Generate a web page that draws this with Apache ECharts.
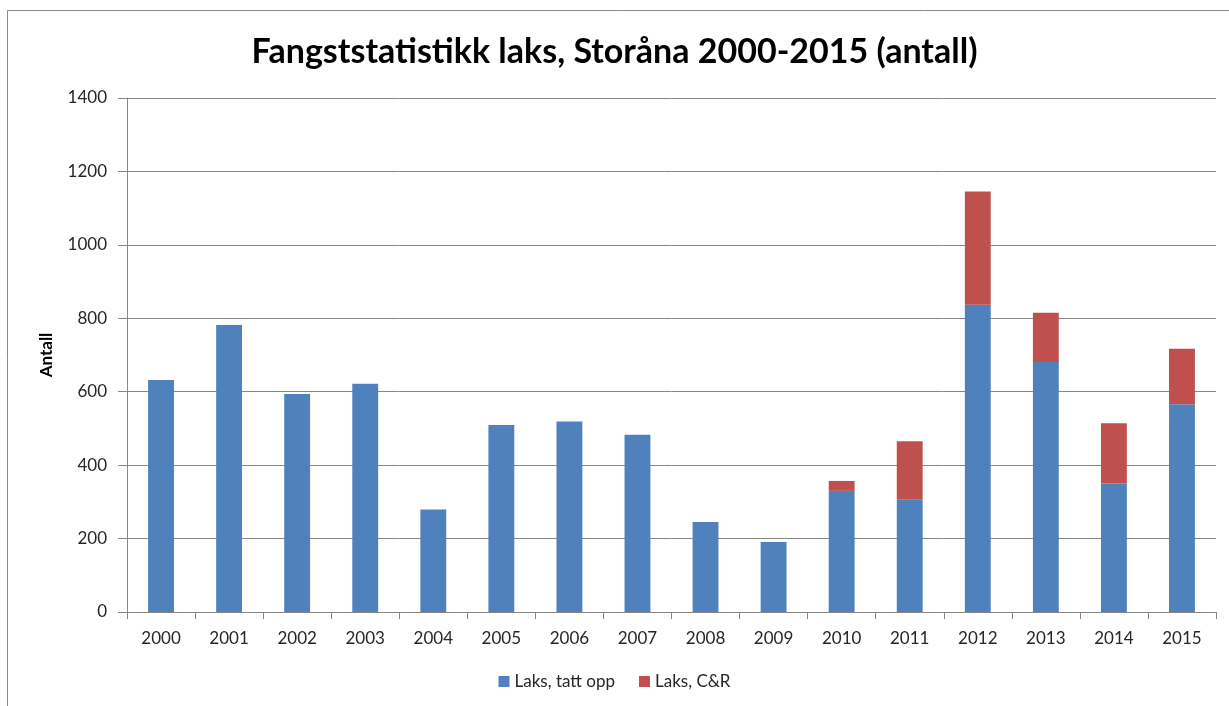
<!DOCTYPE html>
<html>
<head>
<meta charset="utf-8">
<title>Fangststatistikk laks, Storåna</title>
<script src="https://cdn.jsdelivr.net/npm/echarts@6/dist/echarts.min.js"></script>
<style>
    html, body { margin: 0; padding: 0; background: #fff; }
    #chart { width: 1229px; height: 706px; }
</style>
</head>
<body>
<div id="chart"></div>
<script>
// årstall langs x-aksen
var years = ['2000','2001','2002','2003','2004','2005','2006','2007','2008','2009','2010','2011','2012','2013','2014','2015'];
// laks tatt opp (blå)
var tattOpp = [632, 782, 594, 622, 279, 509, 519, 483, 245, 191, 330, 306, 837, 681, 350, 566];
// laks fanget og sluppet ut (rød), bare fra 2010
var catchRelease = [null, null, null, null, null, null, null, null, null, null, 27, 159, 308, 134, 164, 151];
var yTicks = [0, 200, 400, 600, 800, 1000, 1200, 1400];

var fontFam = 'Lato, "Open Sans", sans-serif';
var textColor = '#262626';
var lineColor = '#878787';

var myChart = echarts.init(document.getElementById('chart'));
var option = {
    animation: false,
    title: {
        text: 'Fangststatistikk laks, Storåna 2000-2015 (antall)',
        left: 'center',
        top: 30,
        textStyle: { fontFamily: fontFam, fontSize: 34, fontWeight: 'bold', color: '#000' }
    },
    graphic: [{
        type: 'rect',
        shape: { x: 7.5, y: 10.5, width: 1260, height: 740 },
        style: { fill: 'none', stroke: '#8a8a8a', lineWidth: 1 },
        silent: true
    }],
    legend: {
        bottom: 11,
        left: 'center',
        itemWidth: 11,
        itemHeight: 11,
        itemGap: 24,
        icon: 'rect',
        textStyle: { fontFamily: fontFam, fontSize: 17, color: textColor }
    },
    grid: { left: 127, right: 13, top: 98, bottom: 94 },
    xAxis: {
        type: 'category',
        data: years,
        axisLine: { lineStyle: { color: lineColor } },
        axisTick: { show: true, length: 7, lineStyle: { color: lineColor } },
        axisLabel: { fontFamily: fontFam, fontSize: 17, color: textColor, margin: 18 }
    },
    yAxis: {
        type: 'value',
        min: yTicks[0],
        max: yTicks[yTicks.length - 1],
        interval: 200,
        name: 'Antall',
        nameLocation: 'middle',
        nameRotate: 90,
        nameGap: 72,
        nameTextStyle: { fontFamily: fontFam, fontSize: 17, fontWeight: 'bold', color: '#000' },
        axisLine: { show: true, lineStyle: { color: lineColor } },
        axisTick: { show: true, length: 9, lineStyle: { color: lineColor } },
        splitLine: { lineStyle: { color: lineColor } },
        axisLabel: {
            fontFamily: fontFam, fontSize: 17, color: textColor, margin: 20,
            formatter: function (v) { return String(v); }
        }
    },
    series: [{
        name: 'Laks, tatt opp',
        type: 'bar',
        stack: 'laks',
        barWidth: '38%',
        itemStyle: { color: '#4F81BD' },
        data: tattOpp
    }, {
        name: 'Laks, C&R',
        type: 'bar',
        stack: 'laks',
        barWidth: '38%',
        itemStyle: { color: '#C0504D' },
        data: catchRelease
    }]
};
myChart.setOption(option);
</script>
</body>
</html>
